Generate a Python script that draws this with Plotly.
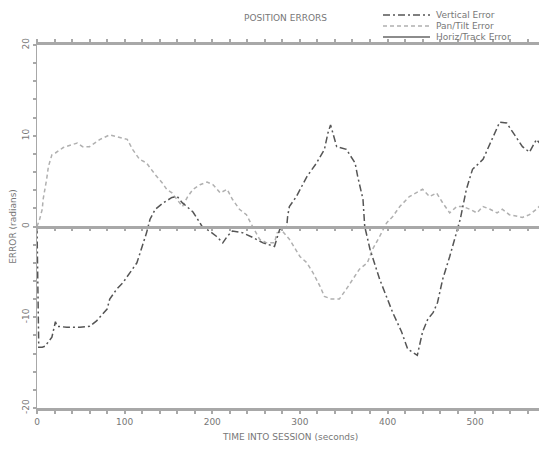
import plotly.graph_objects as go

# ---- data ----
series_names = ["Vertical Error", "Pan/Tilt Error", "Horiz/Track Error"]

vert_t = [0, 1, 2, 6, 9, 17, 21, 23, 34, 49, 60, 68, 80, 83, 91, 98, 106, 114, 120, 125,
          129, 135, 144, 154, 160, 166, 171, 178, 186, 189, 197, 205, 212, 217, 223, 235,
          246, 258, 271, 277, 285, 286, 288, 296, 308, 319, 328, 332, 335, 342, 353, 363,
          366, 372, 374, 380, 391, 397, 406, 416, 423, 434, 440, 446, 452, 457, 463, 471,
          479, 483, 490, 497, 509, 517, 528, 536, 543, 554, 562, 570, 577, 582]
vert_v = [0, -9.3, -13.3, -13.3, -13.2, -12.2, -10.5, -11.0, -11.1, -11.1, -11.0, -10.4,
          -9.1, -8.0, -6.9, -6.2, -5.1, -4.0, -2.2, -0.7, 0.8, 1.9, 2.6, 3.2, 3.3, 2.6, 2.2,
          1.6, 0.4, -0.1, -0.5, -1.1, -1.8, -1.1, -0.5, -0.7, -1.2, -1.8, -2.2, -0.3, 0.0,
          1.1, 2.2, 3.3, 5.5, 7.0, 8.5, 10.3, 11.2, 8.8, 8.5, 7.0, 5.5, 3.0, 0.0, -2.5, -5.8,
          -7.3, -9.5, -11.6, -13.5, -14.2, -11.6, -10.2, -9.5, -8.4, -5.8, -3.3, -0.7, 0.8,
          4.1, 6.3, 7.4, 9.2, 11.5, 11.4, 10.4, 8.8, 8.2, 9.6, 8.8, 8.5]

pan_t = [0, 3, 6, 7, 11, 13, 17, 21, 30, 46, 52, 60, 72, 83, 91, 103, 109, 117, 125, 135,
         143, 148, 154, 160, 166, 172, 178, 186, 194, 201, 209, 217, 223, 231, 239, 246,
         254, 262, 271, 274, 280, 288, 300, 308, 315, 323, 328, 336, 345, 353, 360, 368,
         377, 383, 391, 399, 406, 414, 425, 433, 440, 448, 456, 463, 471, 479, 486, 494,
         502, 509, 517, 525, 531, 539, 547, 554, 562, 570, 577, 582]
pan_v = [0, 0.8, 1.9, 3.0, 5.2, 6.6, 7.9, 8.1, 8.7, 9.2, 8.8, 8.8, 9.6, 10.1, 9.9, 9.6,
         8.5, 7.4, 7.0, 5.7, 4.8, 4.1, 3.7, 3.0, 2.2, 3.3, 4.1, 4.6, 4.9, 4.6, 3.7, 4.1,
         3.0, 1.9, 1.3, 0.0, -1.4, -1.8, -1.8, -0.7, -0.5, -1.4, -3.3, -4.0, -5.1, -6.6,
         -7.7, -8.0, -8.0, -6.9, -5.8, -4.7, -4.0, -2.5, -1.1, 0.4, 1.1, 2.2, 3.3, 3.7,
         4.1, 3.3, 3.7, 2.6, 1.5, 2.2, 2.2, 1.9, 1.5, 2.2, 1.9, 1.5, 1.9, 1.3, 1.1, 1.0,
         1.3, 1.9, 2.6, 3.3]

horiz_t = [0, 100, 200, 300, 400, 500, 600]
horiz_v = [0, 0, 0, 0, 0, 0, 0]

x_tick_vals = [0, 100, 200, 300, 400, 500]
x_tick_text = ["0", "100", "200", "300", "400", "500"]
y_tick_vals = [-20, -10, 0, 10, 20]
y_tick_text = ["-20", "-10", "0", "10", "20"]

title_text = "POSITION ERRORS"
x_title = "TIME INTO SESSION (seconds)"
y_title = "ERROR (radians)"

# ---- styling ----
FONT = "DejaVu Sans"
TXT = "#777777"
AX = "#a8a8a8"
dark = "#555555"
light = "#b0b0b0"
solid = "#666666"

X_MAX = 582

fig = go.Figure()
fig.add_trace(go.Scatter(x=horiz_t, y=horiz_v, mode="lines", name=series_names[2],
                         line=dict(color=solid, width=1.2), xaxis="x2", yaxis="y",
                         showlegend=False))
fig.add_trace(go.Scatter(x=pan_t, y=pan_v, mode="lines", name=series_names[1],
                         line=dict(color=light, width=1.5, dash="4px,3px"),
                         showlegend=False))
fig.add_trace(go.Scatter(x=vert_t, y=vert_v, mode="lines", name=series_names[0],
                         line=dict(color=dark, width=1.5, dash="7px,3px,2px,3px"),
                         showlegend=False))

OFF = 8  # default page body margin
W, H = 547 - OFF, 450 - 2 * OFF
ML, MT = 37 - OFF, 45 - OFF
PH = 363
MB = H - MT - PH
MR = 0
pw = W - ML - MR


def px_x(p):
    return (p - OFF - ML) / pw


def px_y(p):
    return 1 + (MT - (p - OFF)) / PH


fig.update_layout(
    width=W, height=H,
    margin=dict(l=ML, r=MR, t=MT, b=MB, autoexpand=False),
    paper_bgcolor="white", plot_bgcolor="white",
    font=dict(family=FONT, size=9, color=TXT),
    showlegend=False,
    xaxis=dict(range=[0, X_MAX], showgrid=False, zeroline=False, automargin=False,
               showline=True, linecolor=AX, linewidth=2.5, mirror="ticks",
               tickmode="array", tickvals=x_tick_vals, ticktext=x_tick_text,
               ticks="outside", ticklen=3, tickcolor=AX, tickwidth=1.5,
               minor=dict(dtick=20, ticks="outside", ticklen=3, tickcolor=AX, tickwidth=1.5),
               tickfont=dict(size=9, color=TXT)),
    xaxis2=dict(range=[0, X_MAX], overlaying="x", anchor="free", position=0.5,
                automargin=False,
                showgrid=False, zeroline=False, showline=True, linecolor=AX,
                linewidth=2.5, showticklabels=False,
                tickmode="linear", tick0=0, dtick=20,
                ticks="outside", ticklen=3, tickcolor=AX, tickwidth=1.5),
    yaxis=dict(range=[-20, 20], showgrid=False, zeroline=False, automargin=False,
               showline=True, linecolor=AX, linewidth=1.2,
               tickmode="array", tickvals=y_tick_vals, ticktext=y_tick_text,
               tickangle=-90, ticks="outside", ticklen=3, tickcolor=AX, tickwidth=1.5,
               minor=dict(dtick=2, ticks="outside", ticklen=3, tickcolor=AX, tickwidth=1.5),
               tickfont=dict(size=9, color=TXT),
               title=dict(text=y_title, font=dict(size=9, color=TXT), standoff=4)),
)

# x-axis title
fig.add_annotation(text=x_title, xref="paper", yref="paper",
                   x=px_x(290), y=px_y(437), showarrow=False,
                   xanchor="center", yanchor="middle", font=dict(size=9, color=TXT))

# title
fig.add_annotation(text=title_text, xref="paper", yref="paper",
                   x=px_x(285), y=px_y(18),
                   showarrow=False, font=dict(size=9, color=TXT),
                   xanchor="center", yanchor="middle")

# manual legend (compact rows)
legend_dash = ["7px,3px,2px,3px", "4px,3px", "solid"]
legend_col = [dark, light, solid]
row_y = [15, 26, 37]
for name, dsh, col, ry in zip(series_names, legend_dash, legend_col, row_y):
    fig.add_shape(type="line", xref="paper", yref="paper",
                  x0=px_x(383), x1=px_x(430), y0=px_y(ry), y1=px_y(ry),
                  line=dict(color=col, width=1.4, dash=dsh))
    fig.add_annotation(text=name, xref="paper", yref="paper",
                       x=px_x(434), y=px_y(ry), showarrow=False,
                       xanchor="left", yanchor="middle",
                       font=dict(size=9, color=TXT))

fig.write_html("out.html", post_script="document.body.style.overflow='hidden';")
